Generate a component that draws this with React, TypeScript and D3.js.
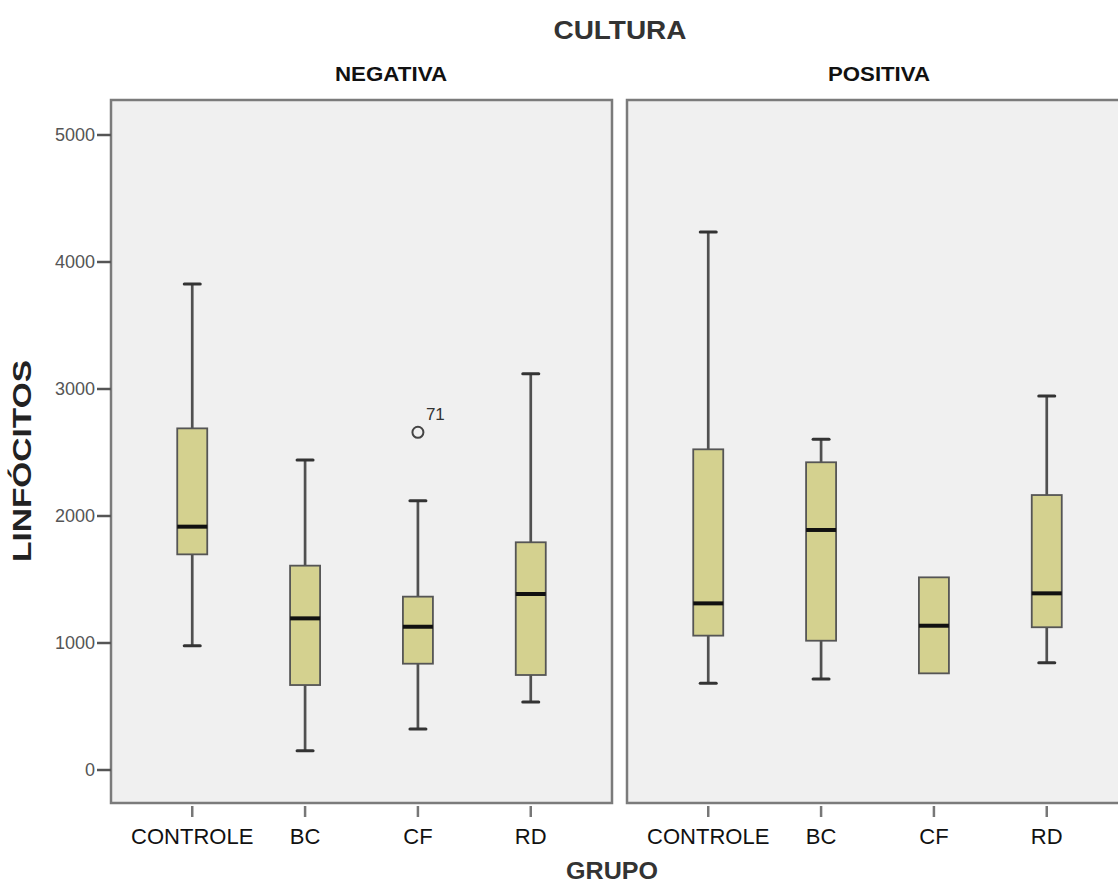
import { useEffect, useRef } from 'react';
import * as d3 from 'd3';

// Box summaries (LINFÓCITOS by GRUPO, split by CULTURA)
const groups = ['CONTROLE', 'BC', 'CF', 'RD'];
const panels = ['NEGATIVA', 'POSITIVA'];

const negMin = [979, 152, 323, 535];
const negQ1 = [1698, 669, 837, 748];
const negMed = [1916, 1194, 1128, 1386];
const negQ3 = [2690, 1609, 1365, 1793];
const negMax = [3827, 2441, 2120, 3120];

const posMin = [683, 717, 761, 845];
const posQ1 = [1058, 1018, 761, 1124];
const posMed = [1312, 1890, 1136, 1391];
const posQ3 = [2525, 2423, 1517, 2165];
const posMax = [4236, 2604, 1517, 2945];

const outlierPanel = ['NEGATIVA'];
const outlierGroup = ['CF'];
const outlierValue = [2659];
const outlierLabel = ['71'];

const yTicks = [0, 1000, 2000, 3000, 4000, 5000];

const FONT = '"Liberation Sans", Arial, sans-serif';

export default function App() {
  const ref = useRef<SVGSVGElement>(null);

  useEffect(() => {
    if (!ref.current) return;
    const W = 1118;
    const H = 884;

    const panelTop = 100;
    const panelBottom = 803;
    const panelW = 501;
    const panelLeft = [111, 627];

    const y = d3.scaleLinear().domain([0, 5000]).range([770, 135]);

    const svg = d3.select(ref.current);
    svg.selectAll('*').remove();
    svg.attr('width', W).attr('height', H).attr('viewBox', `0 0 ${W} ${H}`);

    svg.append('rect').attr('width', W).attr('height', H).attr('fill', '#ffffff');

    const stats = [
      { min: negMin, q1: negQ1, med: negMed, q3: negQ3, max: negMax },
      { min: posMin, q1: posQ1, med: posMed, q3: posQ3, max: posMax },
    ];

    const BOX_W = 30;
    const CAP_W = 16;

    panels.forEach((p, pi) => {
      const x0 = panelLeft[pi];
      const x = d3.scalePoint<string>().domain(groups).range([x0, x0 + panelW]).padding(0.72);

      // panel frame
      svg.append('rect')
        .attr('x', x0).attr('y', panelTop)
        .attr('width', panelW).attr('height', panelBottom - panelTop)
        .attr('fill', '#f0f0f0')
        .attr('stroke', '#7b7b7b')
        .attr('stroke-width', 2.5);

      const s = stats[pi];
      const g = svg.append('g');
      groups.forEach((grp, i) => {
        const cx = x(grp)!;
        const yMin = y(s.min[i]);
        const yQ1 = y(s.q1[i]);
        const yMed = y(s.med[i]);
        const yQ3 = y(s.q3[i]);
        const yMax = y(s.max[i]);

        // whiskers
        if (s.max[i] > s.q3[i]) {
          g.append('line').attr('x1', cx).attr('x2', cx).attr('y1', yMax).attr('y2', yQ3)
            .attr('stroke', '#505050').attr('stroke-width', 2.7);
          g.append('line').attr('x1', cx - CAP_W / 2).attr('x2', cx + CAP_W / 2).attr('y1', yMax).attr('y2', yMax)
            .attr('stroke', '#333').attr('stroke-width', 3).attr('stroke-linecap', 'round');
        }
        if (s.min[i] < s.q1[i]) {
          g.append('line').attr('x1', cx).attr('x2', cx).attr('y1', yQ1).attr('y2', yMin)
            .attr('stroke', '#505050').attr('stroke-width', 2.7);
          g.append('line').attr('x1', cx - CAP_W / 2).attr('x2', cx + CAP_W / 2).attr('y1', yMin).attr('y2', yMin)
            .attr('stroke', '#333').attr('stroke-width', 3).attr('stroke-linecap', 'round');
        }

        // box
        g.append('rect')
          .attr('x', cx - BOX_W / 2).attr('y', yQ3)
          .attr('width', BOX_W).attr('height', yQ1 - yQ3)
          .attr('fill', '#d4d18f')
          .attr('stroke', '#555')
          .attr('stroke-width', 1.8);

        // median
        g.append('line').attr('x1', cx - BOX_W / 2).attr('x2', cx + BOX_W / 2).attr('y1', yMed).attr('y2', yMed)
          .attr('stroke', '#111').attr('stroke-width', 4);

        // x tick + label
        svg.append('line').attr('x1', cx).attr('x2', cx).attr('y1', panelBottom + 3).attr('y2', panelBottom + 14)
          .attr('stroke', '#777').attr('stroke-width', 2.5);
        svg.append('text')
          .attr('x', cx + 15 * (i === 0 ? 0 : 0)).attr('y', 844)
          .attr('text-anchor', 'middle')
          .style('font-family', FONT).style('font-size', '22px').style('fill', '#111')
          .text(grp);
      });

      // outliers
      outlierPanel.forEach((op, k) => {
        if (op !== p) return;
        const cx = x(outlierGroup[k])!;
        const cy = y(outlierValue[k]);
        g.append('circle').attr('cx', cx).attr('cy', cy).attr('r', 5.5)
          .attr('fill', 'none').attr('stroke', '#444').attr('stroke-width', 2);
        g.append('text').attr('x', cx + 8).attr('y', cy - 12)
          .style('font-family', FONT).style('font-size', '17px').style('fill', '#333')
          .text(outlierLabel[k]);
      });
    });

    // y axis ticks on left panel
    yTicks.forEach(t => {
      svg.append('line').attr('x1', 97).attr('x2', panelLeft[0]).attr('y1', y(t)).attr('y2', y(t))
        .attr('stroke', '#555').attr('stroke-width', 2.5);
      svg.append('text').attr('x', 95).attr('y', y(t)).attr('dy', '0.35em')
        .attr('text-anchor', 'end')
        .style('font-family', FONT).style('font-size', '18px').style('fill', '#555')
        .text(t);
    });

    // titles
    svg.append('text').attr('x', 620).attr('y', 39).attr('text-anchor', 'middle')
      .attr('textLength', 133).attr('lengthAdjust', 'spacingAndGlyphs')
      .style('font-family', FONT).style('font-size', '25px').style('font-weight', 'bold').style('fill', '#333')
      .text('CULTURA');
    svg.append('text').attr('x', 391).attr('y', 81).attr('text-anchor', 'middle')
      .attr('textLength', 112).attr('lengthAdjust', 'spacingAndGlyphs')
      .style('font-family', FONT).style('font-size', '20px').style('font-weight', 'bold').style('fill', '#111')
      .text('NEGATIVA');
    svg.append('text').attr('x', 879).attr('y', 81).attr('text-anchor', 'middle')
      .attr('textLength', 102).attr('lengthAdjust', 'spacingAndGlyphs')
      .style('font-family', FONT).style('font-size', '20px').style('font-weight', 'bold').style('fill', '#111')
      .text('POSITIVA');
    svg.append('text').attr('x', 612).attr('y', 879).attr('text-anchor', 'middle')
      .attr('textLength', 92).attr('lengthAdjust', 'spacingAndGlyphs')
      .style('font-family', FONT).style('font-size', '24px').style('font-weight', 'bold').style('fill', '#333')
      .text('GRUPO');
    svg.append('text')
      .attr('transform', 'translate(31, 461) rotate(-90)')
      .attr('text-anchor', 'middle')
      .attr('textLength', 202).attr('lengthAdjust', 'spacingAndGlyphs')
      .style('font-family', FONT).style('font-size', '26px').style('font-weight', 'bold').style('fill', '#222')
      .text('LINFÓCITOS');
  }, []);

  return <svg ref={ref} style={{ position: 'absolute', left: 0, top: 0, display: 'block' }} />;
}
